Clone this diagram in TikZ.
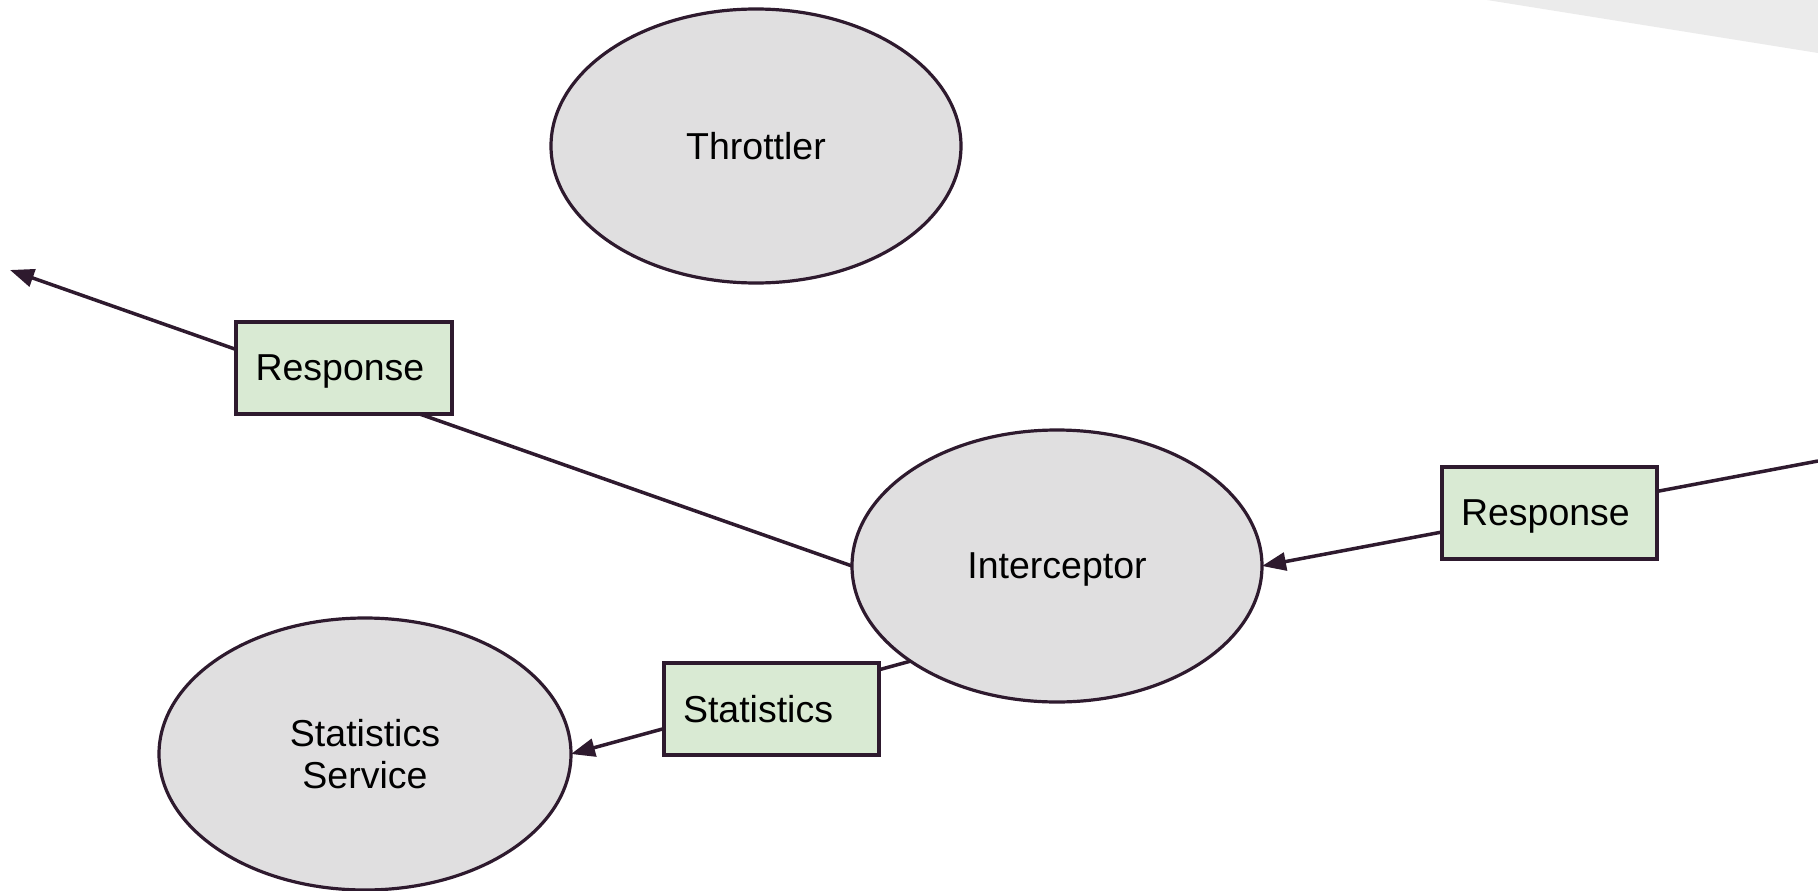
\documentclass[tikz,border=0pt]{standalone}
\usepackage{fontspec}
\setmainfont{Liberation Sans}
\usetikzlibrary{arrows.meta,shapes.geometric}
\definecolor{ink}{HTML}{2E1A2E}
\definecolor{bubble}{HTML}{E0DFE0}
\definecolor{msg}{HTML}{D9EAD3}
\definecolor{greyarea}{HTML}{EBEBEB}
\tikzset{
  proc/.style={ellipse, draw=ink, fill=bubble, line width=3.2pt, inner sep=0pt, outer sep=0pt,
    align=center, text depth=0pt, font=\fontsize{37.5}{42}\selectfont},
  msgbox/.style={rectangle, draw=ink, fill=msg, line width=3.2pt, anchor=north west,
    inner xsep=19pt, inner ysep=0pt, outer sep=0pt, minimum height=92pt,
    text width=177pt, text depth=0pt, align=left, font=\fontsize{37.5}{42}\selectfont},
  flow/.style={draw=ink, line width=3.5pt},
  head/.style={-{Triangle[length=24pt,width=18pt]}}
}
\begin{document}
\begin{tikzpicture}[x=1pt,y=-1pt]
\useasboundingbox (0,0) rectangle (1818,891);
% partly visible shape at the top right
\fill[greyarea] (1487,0) -- (1818,53) -- (1818,0) -- cycle;

% services
\node[proc, minimum width=410pt, minimum height=274pt] (thr) at (756,146) {Throttler};
\node[proc, minimum width=410pt, minimum height=272pt] (int) at (1057,566) {Interceptor};
\node[proc, minimum width=412pt, minimum height=272pt] (stat) at (365,754) {Statistics\\Service};

% open ends
\coordinate (out) at (10,270);
\coordinate (in) at (1818,461);

% connectors
\draw[flow, head] (int.west) -- (out);
\draw[flow, head] (in) -- (int.east);
\draw[flow, head] (int.213.8) -- (stat.east);

% message labels
\node[msgbox, minimum width=216pt] (resp1) at (236,322) {Response};
\node[msgbox, minimum width=215pt] (resp2) at (1442,467) {Response};
\node[msgbox, minimum width=215pt] (stats) at (664,663) {Statistics};
\end{tikzpicture}
\end{document}
